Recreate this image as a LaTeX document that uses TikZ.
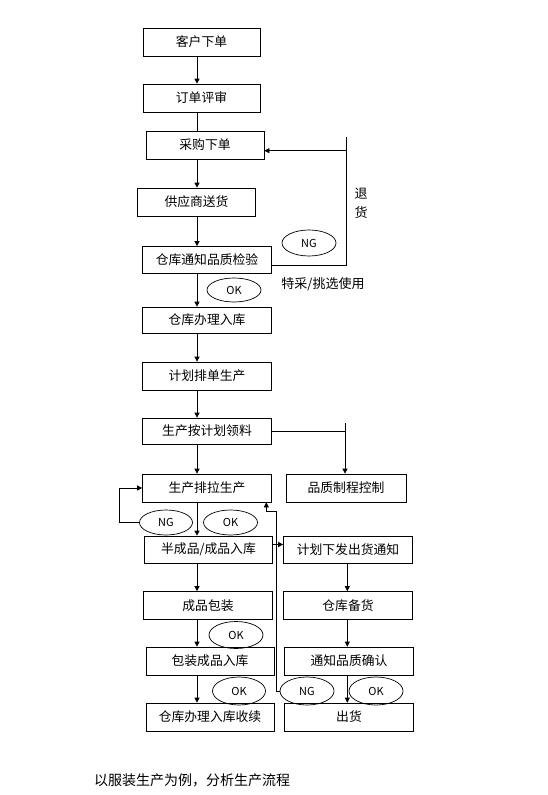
\documentclass[tikz,border=0pt]{standalone}
\usepackage{fontspec}
\newfontfamily\cjk{Noto Sans CJK SC}
\usetikzlibrary{arrows.meta,shapes.geometric}
\begin{document}
\begin{tikzpicture}[x=1pt,y=-1pt,
  box/.style={draw, line width=0.7pt, inner sep=0pt, minimum height=28pt, font=\cjk\fontsize{12.8}{14}\selectfont},
  oval/.style={draw, ellipse, line width=0.7pt, inner sep=0pt, minimum width=54pt, minimum height=26pt, font=\cjk\fontsize{11}{12}\selectfont},
  lbl/.style={inner sep=0pt, font=\cjk\fontsize{13}{14}\selectfont},
  ln/.style={line width=0.7pt},
  arr/.style={line width=0.7pt, -{Triangle[length=5pt,width=5pt]}}]
\useasboundingbox[fill=white] (0,0) rectangle (547,795);
% left column boxes
\node[box, minimum width=117pt] (n1) at (201.5,42) {客户下单};
\node[box, minimum width=117pt] (n2) at (201.5,98) {订单评审};
\node[box, minimum width=118pt] (n3) at (205,145) {采购下单};
\node[box, minimum width=118pt] (n4) at (196.5,202) {供应商送货};
\node[box, minimum width=129pt, minimum height=27pt] (n5) at (207,260) {仓库通知品质检验};
\node[box, minimum width=129pt, minimum height=26pt] (n6) at (207,320) {仓库办理入库};
\node[box, minimum width=129pt] (n7) at (207,376) {计划排单生产};
\node[box, minimum width=129pt, minimum height=26pt] (n8) at (207,431) {生产按计划领料};
\node[box, minimum width=129pt] (n9) at (207,488) {生产排拉生产};
\node[box, minimum width=120pt] (n10) at (346,488) {品质制程控制};
\node[box, minimum width=128pt, minimum height=27pt] (n11) at (208.5,549.5) {半成品/成品入库};
\node[box, minimum width=129pt, minimum height=27pt] (n12) at (348,549.5) {计划下发出货通知};
\node[box, minimum width=129pt] (n13) at (208,605.5) {成品包装};
\node[box, minimum width=129pt] (n14) at (348,605.5) {仓库备货};
\node[box, minimum width=128pt] (n15) at (210,661) {包装成品入库};
\node[box, minimum width=129pt] (n16) at (349,661) {通知品质确认};
\node[box, minimum width=128pt] (n17) at (210,717) {仓库办理入库收续};
\node[box, minimum width=129pt] (n18) at (349,717) {出货};
% ovals
\node[oval] (ng1) at (309,243) {NG};
\node[oval, minimum height=24pt] (ok1) at (234,290) {OK};
\node[oval, minimum width=53pt, minimum height=25pt] (ng2) at (166,522.5) {NG};
\node[oval, minimum height=25pt] (ok2) at (230.5,522.5) {OK};
\node[oval, minimum height=27pt] (ok3) at (236,635) {OK};
\node[oval, minimum width=53pt, minimum height=28pt] (ok4) at (239,691) {OK};
\node[oval, minimum height=28pt] (ng3) at (307,691) {NG};
\node[oval, minimum height=28pt] (ok5) at (376,691) {OK};
% labels
\node[lbl] (t1) at (361,194) {退};
\node[lbl] (t2) at (361,213) {货};
\node[lbl] (t3) at (323,284) {特采/挑选使用};
\node[lbl, anchor=west, font=\cjk\fontsize{14}{16}\selectfont] (cap) at (94,780) {以服装生产为例，分析生产流程};
% helper coordinates
\coordinate (cl) at (197,0);
\coordinate (cr) at (347.3,0);
\coordinate (ra) at (346.7,265);
\coordinate (rb) at (346.7,150.7);
\coordinate (rt) at (346.7,137);
\coordinate (kt) at (345,423);
\coordinate (cv) at (276.3,511);
\coordinate (cu) at (266.3,511);
\coordinate (ya) at (0,544.5);
% left column connectors
\draw[arr] (cl |- n1.south) -- (cl |- n2.north);
\draw[ln] (cl |- n2.south) -- (cl |- n3.north);
\draw[arr] (cl |- n3.south) -- (cl |- n4.north);
\draw[arr] (cl |- n4.south) -- (cl |- n5.north);
\draw[arr] (cl |- n5.south) -- (cl |- n6.north);
\draw[arr] (cl |- n6.south) -- (cl |- n7.north);
\draw[arr] (cl |- n7.south) -- (cl |- n8.north);
\draw[arr] (cl |- n8.south) -- (cl |- n9.north);
\draw[arr] (cl |- n9.south) -- (cl |- n11.north);
\draw[arr] (cl |- n11.south) -- (cl |- n13.north);
\draw[arr] (cl |- n13.south) -- (cl |- n15.north);
\draw[arr] (cl |- n15.south) -- (cl |- n17.north);
% right column connectors
\draw[arr] (cr |- n12.south) -- (cr |- n14.north);
\draw[arr] (cr |- n14.south) -- (cr |- n16.north);
\draw[arr] (cr |- n16.south) -- (cr |- n18.north);
% return loop (NG -> 采购下单)
\draw[ln] (ra -| n5.east) -- (ra) -- (rt);
\draw[arr] (rb) -- (rb -| n3.east);
% 领料 -> 品质制程控制
\draw[ln] (n8.east) -- (n8.east -| kt);
\draw[arr] (kt) -- (kt |- n10.north);
% production NG loop
\draw[arr] (ng2.west) -- ++(-19.7,0) |- (n9.west);
% shipment NG back to production
\draw[arr] (ng3.west) -| (cv) -- (cu) -- (cu |- n9.south);
% 半成品 -> 计划下发
\draw[arr] (ya -| n11.east) -- (ya -| n12.west);
\end{tikzpicture}
\end{document}
